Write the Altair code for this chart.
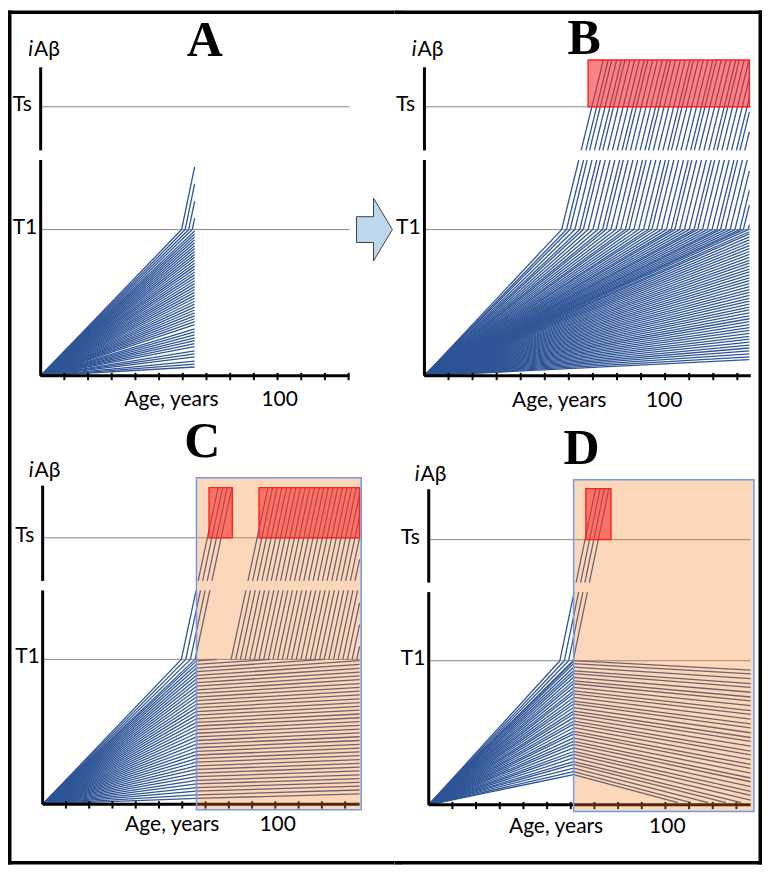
import altair as alt
import pandas as pd

# ---------------- values (T1 = 1 unit) ----------------
T1 = 1.0
TS = 1.84
GAP_LO, GAP_HI = 1.476, 1.542          # break of the iAβ axis
X_TICKS = [10, 20, 30, 40, 50, 60, 70, 80, 90, 100, 110, 120, 130]

# Panel A: lifespan ends at 65
A_END_AGE = 65.0
A_LEVELS = [0.06, 0.08, 0.10, 0.13, 0.15, 0.17, 0.20, 0.22, 0.24, 0.26, 0.28, 0.30,
            0.32, 0.35, 0.37, 0.39, 0.41, 0.43, 0.45, 0.47, 0.49, 0.51, 0.53, 0.55,
            0.57, 0.59, 0.61, 0.63, 0.65, 0.67, 0.69, 0.71, 0.73, 0.75, 0.77, 0.79,
            0.81, 0.83, 0.85, 0.87, 0.89, 0.91, 0.93, 0.95, 0.97, 0.99]
A_CROSS = [59.5, 61.0, 62.5, 64.0]
A_SLOPE = 0.078

# Panel B: lifespan extended to 135
B_END_AGE = 135.0
B_LEVELS = [0.11, 0.13, 0.15, 0.17, 0.19, 0.21, 0.23, 0.25, 0.27, 0.29, 0.31, 0.33,
            0.35, 0.37, 0.39, 0.41, 0.43, 0.45, 0.47, 0.49, 0.51, 0.53, 0.55, 0.57,
            0.59, 0.61, 0.63, 0.65, 0.67, 0.69, 0.71, 0.73, 0.75, 0.77, 0.79, 0.81,
            0.83, 0.85, 0.87, 0.89, 0.91, 0.93, 0.95, 0.97, 0.985]
B_CROSS = [57, 59, 60.5, 62.5, 64.5, 66, 68, 70, 72, 74, 75.5, 77.5, 79.5, 81.5,
           83.5, 85, 87, 89, 91, 93, 94.5, 96.5, 98.5, 100.5, 102.5, 104, 106, 108,
           110, 112, 113.5, 115.5, 117.5, 119.5, 121.5, 123, 125, 127, 129, 131,
           132.5, 134.5]
B_SLOPE = 0.0669
B_TOP = 2.16
B_BOXES = [(68.0, 135.0)]

# Panel C: intervention at 66, slowed accumulation
C_START = 66.1
C_END_AGE = 136.2
C_LEVELS = [0.04, 0.065, 0.09, 0.115, 0.14, 0.165, 0.19, 0.215, 0.24, 0.265, 0.29,
            0.315, 0.34, 0.365, 0.39, 0.415, 0.44, 0.465, 0.49, 0.515, 0.54, 0.565,
            0.59, 0.615, 0.64, 0.665, 0.69, 0.715, 0.74, 0.765, 0.79, 0.815, 0.84,
            0.865, 0.89, 0.915, 0.94, 0.965, 0.99]
C_END_LEVELS = [0.072, 0.098, 0.125, 0.151, 0.177, 0.203, 0.230, 0.256, 0.282, 0.308,
                0.335, 0.361, 0.387, 0.413, 0.440, 0.466, 0.492, 0.518, 0.545, 0.571,
                0.597, 0.623, 0.650, 0.676, 0.702, 0.728, 0.755, 0.781, 0.807, 0.833,
                0.860, 0.886, 0.912, 0.938, 0.965, 0.991, 1.017, 1.043, 1.070]
C_CROSS_EARLY = [59.6, 61.5, 63.5, 65.5]
C_CROSS_LATE = [81, 83, 85, 87, 89, 91, 93, 95, 97, 99, 101, 103, 105, 107, 109, 111,
                113, 115, 117, 119, 121, 123, 125, 127, 129, 131, 133, 135]
C_SLOPE = 0.075
C_TOP = 2.186
C_BOXES = [(71.5, 81.5), (93.0, 136.2)]
C_PEACH = (66.1, 136.9, -0.039, 2.255)

# Panel D: intervention at 61, declining levels
D_START = 61.2
D_END_AGE = 136.0
D_LEVELS = [0.21, 0.23, 0.255, 0.28, 0.30, 0.325, 0.35, 0.37, 0.395, 0.42, 0.44,
            0.465, 0.49, 0.51, 0.535, 0.56, 0.58, 0.605, 0.63, 0.65, 0.675, 0.70,
            0.72, 0.745, 0.77, 0.79, 0.815, 0.84, 0.86, 0.885, 0.91, 0.93, 0.955,
            0.98, 1.0]
D_END_LEVELS = [-0.121, -0.094, -0.061, -0.028, -0.001, 0.033, 0.066, 0.093, 0.126,
                0.160, 0.186, 0.220, 0.253, 0.280, 0.313, 0.347, 0.373, 0.407, 0.440,
                0.467, 0.500, 0.534, 0.561, 0.594, 0.628, 0.654, 0.688, 0.721, 0.748,
                0.781, 0.815, 0.841, 0.875, 0.908, 0.935]
D_CROSS = [55.4, 57.3, 59.1, 61.0]
D_SLOPE = 0.079
D_TOP = 2.194
D_BOXES = [(66.4, 77.0)]
D_PEACH = (61.2, 137.4, -0.046, 2.256)

BLUE = "#2f5597"


# ---------------- geometry helpers ----------------
def split_gap(x1, y1, x2, y2):
    if y1 > y2:
        x1, y1, x2, y2 = x2, y2, x1, y1
    if y2 <= GAP_LO or y1 >= GAP_HI:
        return [(x1, y1, x2, y2)]
    at = lambda v: x1 + (x2 - x1) * (v - y1) / (y2 - y1)
    out = []
    if y1 < GAP_LO:
        out.append((x1, y1, at(GAP_LO), GAP_LO))
    if y2 > GAP_HI:
        out.append((at(GAP_HI), GAP_HI, x2, y2))
    return out


def steep(c, slope, top, xend):
    ex = min(c + (top - T1) / slope, xend)
    return (c, T1, ex, T1 + slope * (ex - c))


def to_df(raw):
    rows = []
    for s in raw:
        for (a, b, c, d) in split_gap(*s):
            rows.append({"x": a, "y": b, "x2": c, "y2": d})
    return pd.DataFrame(rows)


segA = [(0, 0, A_END_AGE, v) for v in A_LEVELS]
for c in A_CROSS:
    segA.append((0, 0, c, T1))
    segA.append(steep(c, A_SLOPE, 9, A_END_AGE))

segB = [(0, 0, B_END_AGE, v) for v in B_LEVELS]
for c in B_CROSS:
    segB.append((0, 0, c, T1))
    segB.append(steep(c, B_SLOPE, B_TOP, B_END_AGE))

segC = [(0, 0, C_START, v) for v in C_LEVELS]
for v, e in zip(C_LEVELS, C_END_LEVELS):
    if e > T1:
        xe = C_START + (C_END_AGE - C_START) * (T1 - v) / (e - v)
        segC.append((C_START, v, xe, T1))
    else:
        segC.append((C_START, v, C_END_AGE, e))
for c in C_CROSS_EARLY:
    segC.append((0, 0, c, T1))
    segC.append(steep(c, C_SLOPE, C_TOP, C_END_AGE))
for c in C_CROSS_LATE:
    segC.append(steep(c, C_SLOPE, C_TOP, C_END_AGE))

segD = [(0, 0, D_START, v) for v in D_LEVELS]
for v, e in zip(D_LEVELS, D_END_LEVELS):
    if e < 0.015:
        xe = D_START + (D_END_AGE - D_START) * (v - 0.015) / (v - e)
        segD.append((D_START, v, xe, 0.015))
    else:
        segD.append((D_START, v, D_END_AGE, e))
for c in D_CROSS:
    segD.append((0, 0, c, T1))
    segD.append(steep(c, D_SLOPE, D_TOP, D_END_AGE))

ARROW = "M -0.57 -0.41 L -0.03 -0.41 L -0.03 -1 L 0.57 0 L -0.03 1 L -0.03 0.41 L -0.57 0.41 Z"
SANS = "Lato"
FRAME_W = 3.5
OVERLAP = 8   # px a frame band runs on into the neighbouring cell


def make_panel(W, H, ox, oy, kx, ky, segs, axis_end, y_top, lab, top, sides,
               peach=None, boxes=(), arrow=None):
    x0, x1 = -ox / kx, (W - ox) / kx
    y0, y1 = -(H - oy) / ky, oy / ky
    xs = alt.Scale(domain=[x0, x1], nice=False, zero=False)
    ys = alt.Scale(domain=[y0, y1], nice=False, zero=False)
    X = lambda f="x": alt.X(f + ":Q", scale=xs, axis=None)
    Y = lambda f="y": alt.Y(f + ":Q", scale=ys, axis=None)
    layers = []
    thr = pd.DataFrame({"x": [0, 0], "x2": [axis_end, axis_end], "y": [T1, TS]})
    layers.append(alt.Chart(thr).mark_rule(color="#8a8a8a", strokeWidth=1)
                  .encode(x=X(), x2=alt.X2("x2"), y=Y()))
    layers.append(alt.Chart(to_df(segs)).mark_rule(color=BLUE, strokeWidth=1.3)
                  .encode(x=X(), x2=alt.X2("x2"), y=Y(), y2=alt.Y2("y2")))
    xa = pd.DataFrame({"x": [0], "x2": [axis_end], "y": [0]})
    layers.append(alt.Chart(xa).mark_rule(color="black", strokeWidth=3)
                  .encode(x=X(), x2=alt.X2("x2"), y=Y()))
    tk = pd.DataFrame({"x": X_TICKS, "y": [0.02] * len(X_TICKS), "y2": [-0.03] * len(X_TICKS)})
    layers.append(alt.Chart(tk).mark_rule(color="black", strokeWidth=2)
                  .encode(x=X(), y=Y(), y2=alt.Y2("y2")))
    ya = pd.DataFrame({"x": [0, 0], "y": [0, GAP_HI], "y2": [GAP_LO, y_top]})
    layers.append(alt.Chart(ya).mark_rule(color="black", strokeWidth=3)
                  .encode(x=X(), y=Y(), y2=alt.Y2("y2")))
    if peach:
        pdf = pd.DataFrame([{"x": peach[0], "x2": peach[1], "y": peach[2], "y2": peach[3]}])
        layers.append(alt.Chart(pdf).mark_rect(fill="#f98224", fillOpacity=0.32,
                                               stroke="#6f9cf0", strokeWidth=1.5)
                      .encode(x=X(), x2=alt.X2("x2"), y=Y(), y2=alt.Y2("y2")))
    if boxes:
        bdf = pd.DataFrame([{"x": a, "x2": b, "y": TS, "y2": top} for a, b in boxes])
        layers.append(alt.Chart(bdf).mark_rect(fill="#f83030", fillOpacity=0.6,
                                               stroke="#ff2020", strokeWidth=1.4)
                      .encode(x=X(), x2=alt.X2("x2"), y=Y(), y2=alt.Y2("y2")))
    # texts
    let = pd.DataFrame([{"x": lab["letter"][1], "y": lab["letter"][2], "t": lab["letter"][0]}])
    layers.append(alt.Chart(let).mark_text(font="Liberation Serif", fontWeight="bold",
                                           fontSize=50, align="center", baseline="alphabetic",
                                           color="black")
                  .encode(x=X(), y=Y(), text="t:N"))
    ax = pd.DataFrame([{"x": lab["age"][0], "y": lab["age"][1], "t": "Age, years"},
                       {"x": lab["hundred"], "y": lab["age"][1], "t": "100"}])
    layers.append(alt.Chart(ax).mark_text(font=SANS, fontSize=21, align="center",
                                          baseline="alphabetic", color="black")
                  .encode(x=X(), y=Y(), text="t:N"))
    th = pd.DataFrame([{"x": -11.8, "y": TS, "t": "Ts"}, {"x": -11.8, "y": T1, "t": "T1"}])
    layers.append(alt.Chart(th).mark_text(font=SANS, fontSize=21, align="left",
                                          baseline="middle", dy=-2, color="black")
                  .encode(x=X(), y=Y(), text="t:N"))
    idf = pd.DataFrame([{"x": lab["iab"][0], "y": lab["iab"][1], "t": "i"}])
    layers.append(alt.Chart(idf).mark_text(font=SANS, fontSize=21, fontStyle="italic",
                                           align="right", baseline="alphabetic", color="black")
                  .encode(x=X(), y=Y(), text="t:N"))
    adf = pd.DataFrame([{"x": lab["iab"][0], "y": lab["iab"][1], "t": "Aβ"}])
    layers.append(alt.Chart(adf).mark_text(font=SANS, fontSize=21, align="left",
                                           baseline="alphabetic", dx=1, color="black")
                  .encode(x=X(), y=Y(), text="t:N"))
    if arrow:
        ar = pd.DataFrame([{"x": arrow[0], "y": arrow[1]}])
        layers.append(alt.Chart(ar).mark_point(shape=ARROW, size=3969, filled=True,
                                               fill="#bdd7ee", stroke="#404040",
                                               strokeWidth=1, opacity=1)
                      .encode(x=X(), y=Y()))
    # figure frame: filled bands along the outer sides of this cell; bands of the
    # upper/left cells run on a little into the neighbouring cell so no gap shows
    bx, by = FRAME_W / kx, FRAME_W / ky
    ex, ey = OVERLAP / kx, OVERLAP / ky
    fr = []
    if "top" in sides:
        fr.append({"x": x0, "x2": x1 + (ex if "left" in sides else 0), "y": y1 - by, "y2": y1})
    if "bottom" in sides:
        fr.append({"x": x0, "x2": x1 + (ex if "left" in sides else 0), "y": y0, "y2": y0 + by})
    if "left" in sides:
        fr.append({"x": x0, "x2": x0 + bx, "y": y0 - (ey if "top" in sides else 0), "y2": y1})
    if "right" in sides:
        fr.append({"x": x1 - bx, "x2": x1, "y": y0 - (ey if "top" in sides else 0), "y2": y1})
    layers.append(alt.Chart(pd.DataFrame(fr)).mark_rect(color="black")
                  .encode(x=X(), x2=alt.X2("x2"), y=Y(), y2=alt.Y2("y2")))
    return alt.layer(*layers).properties(width=W, height=H)


pA = make_panel(387, 408, 32.7, 365.7, 2.372, 146.4, segA, 130.4, 2.11,
                {"letter": ("A", 69.3, 2.19), "age": (55.2, -0.207), "hundred": 100.9,
                 "iab": (-3.2, 2.184)}, 9, ("top", "left"), arrow=(140.9, T1))
pB = make_panel(368, 408, 30.0, 365.7, 2.41, 146.4, segB, 135.6, 2.11,
                {"letter": ("B", 66.4, 2.202), "age": (56.0, -0.214), "hundred": 99.6,
                 "iab": (-3.3, 2.184)}, B_TOP, ("top", "right"), boxes=B_BOXES)
pC = make_panel(387, 447, 34.7, 386.7, 2.33, 145.0, segC, 136.2, 2.2,
                {"letter": ("C", 68.6, 2.398), "age": (55.7, -0.188), "hundred": 101.0,
                 "iab": (-3.9, 2.26)}, C_TOP, ("bottom", "left"),
                peach=C_PEACH, boxes=C_BOXES)
pD = make_panel(368, 447, 34.3, 387.3, 2.37, 144.3, segD, 136.0, 2.19,
                {"letter": ("D", 64.6, 2.367), "age": (53.8, -0.197), "hundred": 100.8,
                 "iab": (-3.9, 2.247)}, D_TOP, ("bottom", "right"),
                peach=D_PEACH, boxes=D_BOXES)

chart = (alt.concat(pA, pB, pC, pD, columns=2, spacing=0, bounds="flush")
         .properties(background="white",
                     padding={"left": 0, "top": 2, "right": 0, "bottom": 0})
         .configure_view(stroke="transparent", strokeWidth=0, fill="white"))

chart.save("out.html", embed_options={"renderer": "svg", "actions": False})
